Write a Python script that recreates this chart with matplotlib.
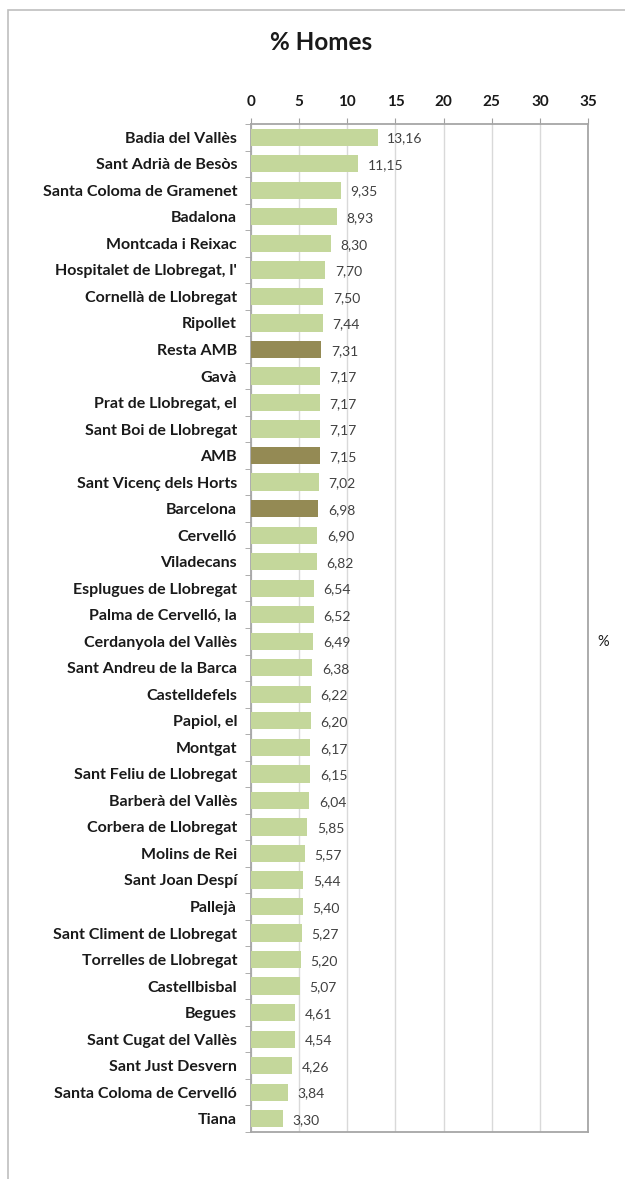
import matplotlib
matplotlib.use("Agg")
import matplotlib.pyplot as plt
from matplotlib.patches import Rectangle
import numpy as np

plt.rcParams['font.family'] = ['Lato', 'DejaVu Sans']

categories = ["Badia del Vallès", "Sant Adrià de Besòs", "Santa Coloma de Gramenet", "Badalona",
              "Montcada i Reixac", "Hospitalet de Llobregat, l'", "Cornellà de Llobregat", "Ripollet",
              "Resta AMB", "Gavà", "Prat de Llobregat, el", "Sant Boi de Llobregat", "AMB",
              "Sant Vicenç dels Horts", "Barcelona", "Cervelló", "Viladecans", "Esplugues de Llobregat",
              "Palma de Cervelló, la", "Cerdanyola del Vallès", "Sant Andreu de la Barca", "Castelldefels",
              "Papiol, el", "Montgat", "Sant Feliu de Llobregat", "Barberà del Vallès",
              "Corbera de Llobregat", "Molins de Rei", "Sant Joan Despí", "Pallejà",
              "Sant Climent de Llobregat", "Torrelles de Llobregat", "Castellbisbal", "Begues",
              "Sant Cugat del Vallès", "Sant Just Desvern", "Santa Coloma de Cervelló", "Tiana"]
values = [13.16, 11.15, 9.35, 8.93, 8.30, 7.70, 7.50, 7.44, 7.31, 7.17, 7.17, 7.17, 7.15, 7.02,
          6.98, 6.90, 6.82, 6.54, 6.52, 6.49, 6.38, 6.22, 6.20, 6.17, 6.15, 6.04, 5.85, 5.57,
          5.44, 5.40, 5.27, 5.20, 5.07, 4.61, 4.54, 4.26, 3.84, 3.30]
highlight = ["Resta AMB", "AMB", "Barcelona"]
xticks = [0, 5, 10, 15, 20, 25, 30, 35]

light = "#C4D79B"
dark = "#948A54"

fig = plt.figure(figsize=(6.25, 11.79), dpi=100)
# outer chart frame
fig.patches.append(Rectangle((8/625, -0.05), 1.2, 1 - 10/1179 + 0.05, transform=fig.transFigure,
                             fill=False, edgecolor="#BFBFBF", linewidth=1.2))

ax = fig.add_axes([251/625, 47/1179, 337/625, 1008/1179])
n = len(categories)
y = np.arange(n)
colors = [dark if c in highlight else light for c in categories]
ax.barh(y, values, height=0.65, color=colors, zorder=3)
ax.set_ylim(n - 0.5, -0.5)
ax.set_xlim(0, 35)
ax.set_yticks(y)
ax.set_yticklabels(categories, fontsize=11.5, fontweight='bold', color="#1a1a1a")
ax.set_yticks(np.arange(-0.5, n, 1), minor=True)
ax.tick_params(axis='y', which='major', length=0, pad=10)
ax.tick_params(axis='y', which='minor', length=4, color="#A0A0A0")
ax.xaxis.tick_top()
ax.set_xticks(xticks)
ax.set_xticklabels([str(t) for t in xticks], fontsize=11, fontweight='bold', color="#1a1a1a")
ax.tick_params(axis='x', length=4, color="#A0A0A0", pad=7)
ax.grid(axis='x', color="#D9D9D9", linewidth=1, zorder=0)
for s in ax.spines.values():
    s.set_color("#A6A6A6")
    s.set_linewidth(1.3)

for yi, v in zip(y, values):
    ax.text(v + 1.0, yi + 0.05, f"{v:.2f}".replace(".", ","), va='center', ha='left',
            fontsize=10, color="#404040")

fig.text(321/625, 1 - 42/1179, "% Homes", ha='center', va='center', fontsize=17.5,
         fontweight='bold', color="#1a1a1a")
fig.text(603/625, 1 - 642/1179, "%", ha='center', va='center', fontsize=10.5, color="#1a1a1a")

fig.savefig("out.png", dpi=100)
